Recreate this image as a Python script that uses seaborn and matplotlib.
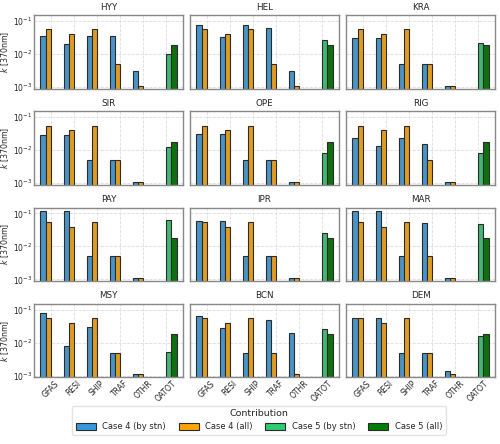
import numpy as np
import pandas as pd
import seaborn as sns
import matplotlib.pyplot as plt
from matplotlib.patches import Patch

# ========================
# data
# ========================
stations = ['HYY', 'HEL', 'KRA', 'SIR', 'OPE', 'RIG',
            'PAY', 'IPR', 'MAR', 'MSY', 'BCN', 'DEM']
sources = ['GFAS', 'RESI', 'SHIP', 'TRAF', 'OTHR']
total_source = 'OATOT'

# Case 4 (by stn): GFAS, RESI, SHIP, TRAF, OTHR
case4_stn = {
    'HYY': [0.035, 0.020, 0.035, 0.035, 0.0030],
    'HEL': [0.075, 0.032, 0.075, 0.060, 0.0030],
    'KRA': [0.030, 0.030, 0.005, 0.005, 0.0011],
    'SIR': [0.029, 0.029, 0.005, 0.005, 0.0011],
    'OPE': [0.032, 0.032, 0.005, 0.005, 0.0011],
    'RIG': [0.024, 0.0135, 0.024, 0.015, 0.0011],
    'PAY': [0.120, 0.120, 0.005, 0.005, 0.0011],
    'IPR': [0.060, 0.060, 0.005, 0.005, 0.0011],
    'MAR': [0.120, 0.120, 0.005, 0.052, 0.0011],
    'MSY': [0.078, 0.0077, 0.029, 0.005, 0.0011],
    'BCN': [0.064, 0.027, 0.005, 0.050, 0.0200],
    'DEM': [0.055, 0.055, 0.005, 0.005, 0.0014],
}
# Case 4 (all): same for every station
case4_all = [0.055, 0.040, 0.055, 0.005, 0.0011]

# Case 5: OATOT
case5_stn = [0.010, 0.026, 0.021, 0.0124, 0.0083, 0.0085,
             0.065, 0.026, 0.047, 0.0054, 0.026, 0.0155]
case5_all = 0.018

labels = ['Case 4 (by stn)', 'Case 4 (all)', 'Case 5 (by stn)', 'Case 5 (all)']
colors = ['#3498db', '#ffa500', '#2ecc71', '#008000']

# long table
rows = []
for i, st in enumerate(stations):
    for j, src in enumerate(sources):
        rows.append([st, src, labels[0], case4_stn[st][j]])
        rows.append([st, src, labels[1], case4_all[j]])
    rows.append([st, total_source, labels[2], case5_stn[i]])
    rows.append([st, total_source, labels[3], case5_all])
df = pd.DataFrame(rows, columns=['station', 'source', 'case', 'k'])

# ========================
# plot
# ========================
sns.set_style('whitegrid')
plt.rcParams['font.family'] = ['DejaVu Sans']

fig, axes = plt.subplots(4, 3, figsize=(5.0, 4.44), dpi=100, sharex=True, sharey=True)
fig.subplots_adjust(left=0.068, right=0.99, top=0.966, bottom=0.150,
                    wspace=0.047, hspace=0.31)

order = sources + [total_source]
for ax, st in zip(axes.flat, stations):
    sns.barplot(data=df[df['station'] == st], x='source', y='k', hue='case',
                order=order, hue_order=labels, palette=colors,
                errorbar=None, width=0.88, edgecolor='#2b2b2b', linewidth=0.8,
                legend=False, ax=ax)
    ax.set_yscale('log')
    ax.set_ylim(8.9e-4, 0.15)
    ax.set_xlim(-0.72, 5.72)
    ax.set_title(st, fontsize=6.3, pad=4)
    ax.set_xlabel('')
    ax.set_ylabel('')
    ax.grid(True, which='major', linestyle='--', linewidth=0.6, color='#dddddd')
    ax.grid(False, which='minor')
    ax.tick_params(axis='both', labelsize=5.5, pad=1, length=0)
    ax.tick_params(axis='x', rotation=45)
    ax.yaxis.set_minor_locator(plt.NullLocator())
    for s in ax.spines.values():
        s.set_color('#888888')
        s.set_linewidth(1.0)

for ax in axes[:, 0]:
    ax.set_ylabel('$k$ [370nm]', fontsize=5.7, labelpad=2)

handles = [Patch(facecolor=c, edgecolor='#2b2b2b', linewidth=0.8, label=l)
           for c, l in zip(colors, labels)]
fig.legend(handles=handles, loc='lower center', bbox_to_anchor=(0.518, 0.012),
           ncol=4, fontsize=6, title='Contribution', title_fontsize=6.8,
           frameon=True, edgecolor='#dddddd', columnspacing=1.5,
           handlelength=2.4, handleheight=0.9)

plt.savefig('out.png', dpi=100)
